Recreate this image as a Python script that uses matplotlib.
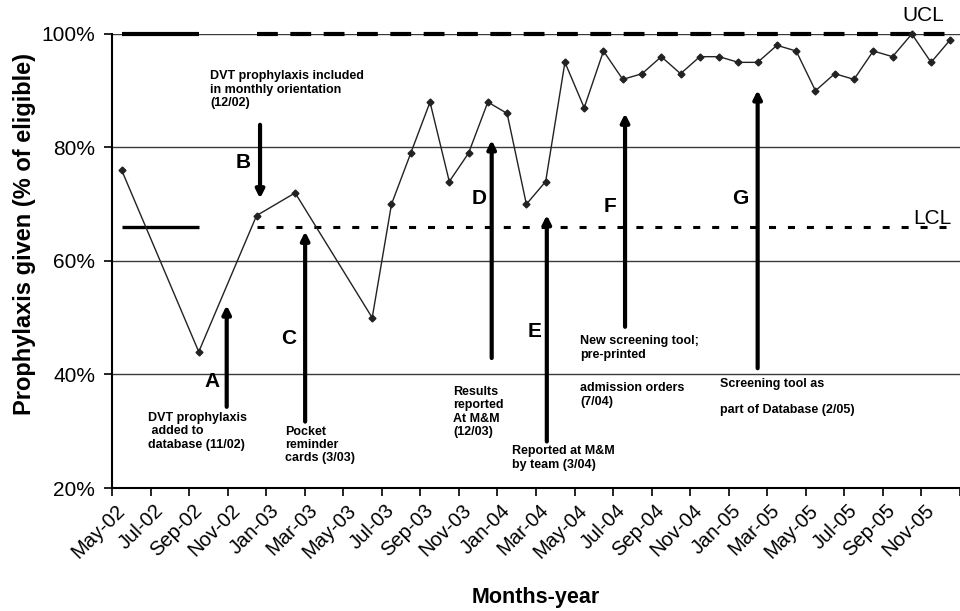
import matplotlib.pyplot as plt
from matplotlib.ticker import FixedLocator

plt.rcParams['font.family'] = ['Liberation Sans', 'DejaVu Sans']

# category axis: one slot per month
months = ["May-02", "Jun-02", "Jul-02", "Aug-02", "Sep-02", "Oct-02", "Nov-02", "Dec-02",
          "Jan-03", "Feb-03", "Mar-03", "Apr-03", "May-03", "Jun-03", "Jul-03", "Aug-03",
          "Sep-03", "Oct-03", "Nov-03", "Dec-03", "Jan-04", "Feb-04", "Mar-04", "Apr-04",
          "May-04", "Jun-04", "Jul-04", "Aug-04", "Sep-04", "Oct-04", "Nov-04", "Dec-04",
          "Jan-05", "Feb-05", "Mar-05", "Apr-05", "May-05", "Jun-05", "Jul-05", "Aug-05",
          "Sep-05", "Oct-05", "Nov-05", "Dec-05"]
tick_labels = ["May-02", "Jul-02", "Sep-02", "Nov-02", "Jan-03", "Mar-03", "May-03",
               "Jul-03", "Sep-03", "Nov-03", "Jan-04", "Mar-04", "May-04", "Jul-04",
               "Sep-04", "Nov-04", "Jan-05", "Mar-05", "May-05", "Jul-05", "Sep-05", "Nov-05"]

# months that have a measurement, and % of eligible patients given prophylaxis
obs_months = ["May-02", "Sep-02", "Dec-02", "Feb-03", "Jun-03"] + months[14:]
rate = [76, 44, 68, 72, 50,
        70, 79, 88, 74, 79, 88, 86, 70, 74, 95,
        87, 97, 92, 93, 96, 93, 96, 96, 95, 95,
        98, 97, 90, 93, 92, 97, 96, 100, 95, 99]

# control limits: baseline period and after the interventions started
ucl_base, lcl_base = 100, 66
ucl_post, lcl_post = 100, 66
base_span = ["May-02", "Sep-02"]
post_start = "Dec-02"

pos = {m: i for i, m in enumerate(months)}
x_end = len(months) - 0.5

fig = plt.figure(figsize=(9.6, 6.11), dpi=100)
ax = fig.add_axes([0.1167, 0.2013, 0.8833, 0.7431])

# control limits
bx = [pos[m] for m in base_span]
ax.plot(bx, [ucl_base] * 2, color='black', lw=3, solid_capstyle='butt', clip_on=False, zorder=3)
ax.plot(bx, [lcl_base] * 2, color='black', lw=2.4, solid_capstyle='butt', zorder=3)
ax.plot([pos[post_start], x_end - 0.3], [ucl_post] * 2, color='black', lw=3,
        dashes=(5, 3), dash_capstyle='butt', clip_on=False, zorder=3)
ax.plot([pos[post_start], x_end - 0.3], [lcl_post] * 2, color='black', lw=2.2,
        dashes=(2.3, 3.9), dash_capstyle='butt', zorder=3)
ax.text(41.6, 102.2, "UCL", ha='center', va='baseline', fontsize=15, clip_on=False)
ax.text(42.05, 66.6, "LCL", ha='center', va='baseline', fontsize=15)

# measured rate
ax.plot([pos[m] for m in obs_months], rate, color='#222222', lw=1, marker='D', ms=3.5,
        clip_on=False, zorder=4)

# interventions: letter, arrow x, tail, tip, letter position
events = [
    ("A", 5.45, 34.3, 52.2, 4.68, 38.8, 'white'),
    ("B", 7.18, 84.0, 71.0, 6.3, 77.3, 'black'),
    ("C", 9.52, 31.7, 65.2, 8.65, 46.4, 'black'),
    ("D", 19.2, 42.9, 81.3, 18.56, 71.0, 'black'),
    ("E", 22.06, 28.2, 68.1, 21.45, 47.5, 'black'),
    ("F", 26.12, 48.4, 86.0, 25.35, 69.6, 'black'),
    ("G", 33.0, 41.1, 90.1, 32.09, 71.0, 'black'),
]
for letter, ax_x, tail, tip, lx, ly, fc in events:
    ax.annotate('', xy=(ax_x, tip), xytext=(ax_x, tail),
                arrowprops=dict(arrowstyle='-|>', lw=3, color='black', fc=fc,
                                mutation_scale=12, shrinkA=0, shrinkB=0),
                zorder=5)
    ax.text(lx, ly, letter, ha='center', va='center', fontsize=15, fontweight='bold')

notes = [
    (4.59, 93.6, "DVT prophylaxis included\nin monthly orientation\n(12/02)"),
    (1.39, 33.4, "DVT prophylaxis\n added to\ndatabase (11/02)"),
    (8.48, 31.0, "Pocket\nreminder\ncards (3/03)"),
    (17.2, 38.0, "Results\nreported\nAt M&M\n(12/03)"),
    (20.24, 27.5, "Reported at M&M\nby team (3/04)"),
    (23.79, 46.9, "New screening tool;\npre-printed"),
    (23.79, 38.6, "admission orders\n(7/04)"),
    (31.05, 39.4, "Screening tool as"),
    (31.05, 34.8, "part of Database (2/05)"),
]
for nx, ny, txt in notes:
    ax.text(nx, ny, txt, ha='left', va='top', fontsize=9, fontweight='bold',
            linespacing=1.15)

# axes
ax.set_xlim(-0.5, x_end)
ax.set_ylim(20, 100)
ax.set_yticks([20, 40, 60, 80, 100])
ax.set_yticklabels([f"{v}%" for v in [20, 40, 60, 80, 100]], fontsize=15)
ax.yaxis.grid(True, color='#3a3a3a', lw=1)
ax.set_axisbelow(True)

ax.set_xticks([pos[m] for m in tick_labels])
ax.set_xticklabels(tick_labels, rotation=45, ha='right', va='center',
                   rotation_mode='anchor', fontsize=14.5)
ax.xaxis.set_minor_locator(FixedLocator([i - 0.5 for i in range(0, len(months) + 1, 2)]))
ax.tick_params(axis='x', which='major', length=0, pad=14)
ax.tick_params(axis='x', which='minor', length=6, width=1.2, direction='out')
ax.tick_params(axis='y', length=6, width=1.2, direction='out', pad=6)

for side in ['top', 'right']:
    ax.spines[side].set_visible(False)
for side in ['left', 'bottom']:
    ax.spines[side].set_linewidth(1.5)

ax.set_xlabel("Months-year", fontsize=15.5, fontweight='bold')
ax.xaxis.set_label_coords(0.5, -0.218)
ax.set_ylabel("Prophylaxis given (% of eligible)", fontsize=17, fontweight='bold')
ax.yaxis.set_label_coords(-0.09, 0.56)

fig.savefig("out.png", dpi=100)
